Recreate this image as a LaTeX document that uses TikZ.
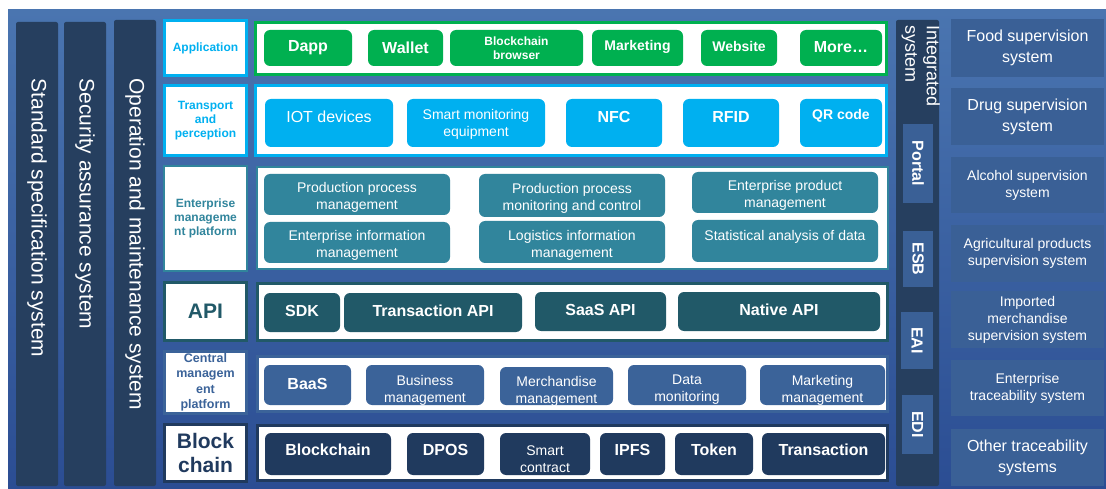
\documentclass[tikz,border=0pt]{standalone}
\usepackage{fontspec}
\setmainfont{Liberation Sans}
\usetikzlibrary{positioning}

\definecolor{bgtop}{HTML}{4A75B0}
\definecolor{bgbot}{HTML}{2B4D93}
\definecolor{darkbar}{HTML}{263F5F}
\definecolor{appgreen}{HTML}{00B050}
\definecolor{iotcyan}{HTML}{00B0F0}
\definecolor{entteal}{HTML}{31859C}
\definecolor{apiteal}{HTML}{215968}
\definecolor{cmblue}{HTML}{3B6399}
\definecolor{bcnavy}{HTML}{203A5E}
\definecolor{sidebox}{HTML}{3A6096}

\tikzset{
  bar/.style={fill=darkbar, rounded corners=2pt},
  lblbox/.style={fill=white, line width=3pt},
  rowbox/.style={fill=white, line width=3pt},
  item/.style={rounded corners=6pt, text=white},
  sysbox/.style={fill=sidebox, text=white},
  bigbold/.style={font=\fontsize{16}{18}\selectfont\bfseries, align=center},
  bignorm/.style={font=\fontsize{16}{21}\selectfont, align=center},
  midbold/.style={font=\fontsize{14}{17}\selectfont\bfseries, align=center},
  midnorm/.style={font=\fontsize{14}{17}\selectfont, align=center},
  tinybold/.style={font=\fontsize{12}{14}\selectfont\bfseries, align=center},
  vertfont/.style={font=\fontsize{21}{24}\selectfont, text=white, rotate=-90},
}

\begin{document}
\begin{tikzpicture}[x=1pt, y=-1pt]
    % Background
    \useasboundingbox (0,0) rectangle (1106,489);
    \shade[top color=bgtop, bottom color=bgbot] (8,10) rectangle (1106,489);

    % Left vertical systems
    \fill[bar] (16,22) rectangle (58,486);
    \node[vertfont, anchor=west] (stdsys) at (37,75) {Standard specification system};
    \fill[bar] (64,22) rectangle (106,486);
    \node[vertfont, anchor=west] (secsys) at (85,75) {Security assurance system};
    \fill[bar] (114,20) rectangle (156,486);
    \node[vertfont, anchor=west] (opsys) at (135,75) {Operation and maintenance system};

    % Layer labels
    \draw[lblbox, draw=iotcyan] (164.5,20.5) rectangle (246.5,75.5)
        node[midway, tinybold, text=iotcyan] (lapp) {Application};
    \draw[lblbox, draw=iotcyan] (164.5,85.5) rectangle (246.5,155.5)
        node[midway, tinybold, text=iotcyan] (ltrans) {Transport\\and\\perception};
    \draw[lblbox, draw=entteal, line width=2.5pt] (164.2,166.2) rectangle (246.8,270.8)
        node[midway, tinybold, text=entteal] (lent) {Enterprise\\manageme\\nt platform};
    \draw[lblbox, draw=apiteal] (164.5,282.5) rectangle (246.5,340.5)
        node[midway, font=\fontsize{21}{24}\selectfont\bfseries, text=apiteal] (lapi) {API};
    \draw[lblbox, draw=cmblue] (164.5,351.5) rectangle (246.5,413.5)
        node[midway, font=\fontsize{12.5}{15.5}\selectfont\bfseries, align=center, text=cmblue] (lcent) {Central\\managem\\ent\\platform};
    \draw[lblbox, draw=bcnavy] (164.5,424.5) rectangle (246.5,481.5)
        node[midway, font=\fontsize{21}{24}\selectfont\bfseries, align=center, text=bcnavy] (lbc) {Block\\chain};

    % Layer rows
    \draw[rowbox, draw=appgreen] (255.5,22.5) rectangle (886.5,74.5);
    \draw[rowbox, draw=iotcyan] (255.5,85.5) rectangle (886.5,155.5);
    \draw[rowbox, draw=entteal, line width=2.5pt] (257.2,167.2) rectangle (887.8,268.8);
    \draw[rowbox, draw=apiteal] (257.5,283.5) rectangle (887.5,340.5);
    \draw[rowbox, draw=cmblue] (257.5,356.5) rectangle (887.5,411.5);
    \draw[rowbox, draw=bcnavy] (257.5,425.5) rectangle (887.5,480.5);

    % Application
    \fill[item, fill=appgreen] (264,30) rectangle (352,66) node[midway, bigbold] (dapp) {Dapp};
    \fill[item, fill=appgreen] (368,30) rectangle (443,66) node[midway, bigbold] (wallet) {Wallet};
    \fill[item, fill=appgreen] (450,30) rectangle (583,66) node[midway, tinybold] (bbrowser) {Blockchain\\browser};
    \fill[item, fill=appgreen] (592,30) rectangle (683,66) node[midway, midbold, yshift=1pt] (mkt) {Marketing};
    \fill[item, fill=appgreen] (701,30) rectangle (777,66) node[midway, midbold, yshift=2pt] (website) {Website};
    \fill[item, fill=appgreen] (800,30) rectangle (882,66) node[midway, bigbold, yshift=1pt] (more) {More…};

    % Transport and perception
    \fill[item, fill=iotcyan] (265,99) rectangle (393,147) node[midway, bignorm, yshift=6pt] (iot) {IOT devices};
    \fill[item, fill=iotcyan] (407,99) rectangle (545,147) node[midway, midnorm, yshift=-1pt] (smartmon) {Smart monitoring\\equipment};
    \fill[item, fill=iotcyan] (566,99) rectangle (662,147) node[midway, bigbold, yshift=6pt] (nfc) {NFC};
    \fill[item, fill=iotcyan] (683,99) rectangle (779,147) node[midway, bigbold, yshift=6pt] (rfid) {RFID};
    \fill[item, fill=iotcyan] (800,99) rectangle (882,147) node[midway, midbold, yshift=7pt] (qrcode) {QR code};

    % Enterprise management platform
    \fill[item, fill=entteal] (264,174) rectangle (450,215) node[midway, midnorm, yshift=-3pt] (ppm) {Production process\\management};
    \fill[item, fill=entteal] (479,174) rectangle (665,217) node[midway, midnorm, yshift=-3pt] (ppmc) {Production process\\monitoring and control};
    \fill[item, fill=entteal] (692,172) rectangle (878,213) node[midway, midnorm, yshift=-3pt] (epm) {Enterprise product\\management};
    \fill[item, fill=entteal] (264,222) rectangle (450,263) node[midway, midnorm, yshift=-3pt] (eim) {Enterprise information\\management};
    \fill[item, fill=entteal] (479,221) rectangle (665,263) node[midway, midnorm, yshift=-3pt] (lim) {Logistics information\\management};
    \fill[item, fill=entteal] (692,220) rectangle (878,262) node[midway, midnorm, yshift=4pt] (sad) {Statistical analysis of data};

    % API
    \fill[item, fill=apiteal] (264,293) rectangle (340,332) node[midway, bigbold, yshift=2pt] (sdk) {SDK};
    \fill[item, fill=apiteal] (344,293) rectangle (522,332) node[midway, bigbold, yshift=2pt] (txapi) {Transaction API};
    \fill[item, fill=apiteal] (535,292) rectangle (666,331) node[midway, bigbold, yshift=2pt] (saasapi) {SaaS API};
    \fill[item, fill=apiteal] (678,292) rectangle (880,331) node[midway, bigbold, yshift=2pt] (nativeapi) {Native API};

    % Central management platform
    \fill[item, fill=cmblue] (264,365) rectangle (351,405) node[midway, bigbold, yshift=1pt] (baas) {BaaS};
    \fill[item, fill=cmblue] (366,365) rectangle (484,405) node[midway, midnorm, yshift=-5pt] (busmgmt) {Business\\management};
    \fill[item, fill=cmblue] (500,367) rectangle (613,405) node[midway, midnorm, yshift=-5pt] (merchmgmt) {Merchandise\\management};
    \fill[item, fill=cmblue] (628,365) rectangle (746,405) node[midway, midnorm, yshift=-5pt] (datamon) {Data\\monitoring};
    \fill[item, fill=cmblue] (760,365) rectangle (885,405) node[midway, midnorm, yshift=-5pt] (mktmgmt) {Marketing\\management};

    % Block chain
    \fill[item, fill=bcnavy] (265,433) rectangle (391,475) node[midway, bigbold, yshift=4pt] (blockchain) {Blockchain};
    \fill[item, fill=bcnavy] (407,433) rectangle (484,475) node[midway, bigbold, yshift=4pt] (dpos) {DPOS};
    \fill[item, fill=bcnavy] (500,433) rectangle (590,475) node[midway, midnorm, yshift=-5pt] (smartc) {Smart\\contract};
    \fill[item, fill=bcnavy] (600,433) rectangle (665,475) node[midway, bigbold, yshift=4pt] (ipfs) {IPFS};
    \fill[item, fill=bcnavy] (675,433) rectangle (753,475) node[midway, bigbold, yshift=4pt] (token) {Token};
    \fill[item, fill=bcnavy] (762,433) rectangle (885,475) node[midway, bigbold, yshift=4pt] (transaction) {Transaction};

    % Integrated system
    \fill[bar] (896,20) rectangle (939,486);
    \node[rotate=-90, anchor=north west, inner sep=0pt, align=left, text=white,
          font=\fontsize{18}{21.5}\selectfont] (integ) at (940,25) {Integrated\\system};
    \fill[sysbox] (903,124) rectangle (933,203) node[midway, rotate=-90, bigbold] (portal) {Portal};
    \fill[sysbox] (903,231) rectangle (933,287) node[midway, rotate=-90, bigbold] (esb) {ESB};
    \fill[sysbox] (901,312) rectangle (933,369) node[midway, rotate=-90, bigbold] (eai) {EAI};
    \fill[sysbox] (902,395) rectangle (933,454) node[midway, rotate=-90, bigbold] (edi) {EDI};

    % Supervision systems
    \fill[sysbox] (951,19) rectangle (1104,77) node[midway, bignorm] (food) {Food supervision\\system};
    \fill[sysbox] (951,88) rectangle (1104,145) node[midway, bignorm] (drug) {Drug supervision\\system};
    \fill[sysbox] (951,157) rectangle (1104,213) node[midway, midnorm] (alcohol) {Alcohol supervision\\system};
    \fill[sysbox] (951,225) rectangle (1104,282) node[midway, midnorm] (agri) {Agricultural products\\supervision system};
    \fill[sysbox] (951,291) rectangle (1104,348) node[midway, midnorm] (imported) {Imported\\merchandise\\supervision system};
    \fill[sysbox] (951,360) rectangle (1104,416) node[midway, midnorm] (enttrace) {Enterprise\\traceability system};
    \fill[sysbox] (951,429) rectangle (1104,486) node[midway, bignorm] (othertrace) {Other traceability\\systems};
\end{tikzpicture}
\end{document}
